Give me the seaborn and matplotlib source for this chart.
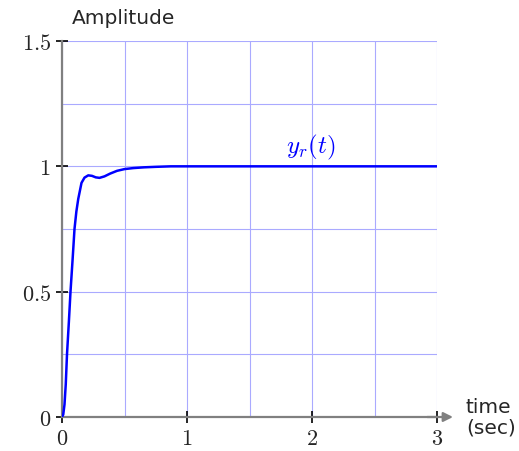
import matplotlib
matplotlib.use("Agg")
import matplotlib.pyplot as plt
import seaborn as sns
import pandas as pd
import numpy as np

# data
t_vals = [0.0, 0.01, 0.02, 0.03, 0.04, 0.055, 0.068, 0.085, 0.10, 0.115, 0.13, 0.156, 0.18, 0.21, 0.24,
          0.27, 0.30, 0.34, 0.385, 0.44, 0.5, 0.57, 0.655, 0.75, 0.87, 1.0, 1.5, 2.0, 2.5, 3.0]
y_vals = [0.0, 0.01, 0.05, 0.13, 0.25, 0.38, 0.5, 0.63, 0.75, 0.82, 0.87, 0.934, 0.955, 0.964, 0.962,
          0.956, 0.954, 0.96, 0.971, 0.982, 0.989, 0.993, 0.996, 0.998, 1.0, 1.0, 1.0, 1.0, 1.0, 1.0]
x_ticks = [0, 1, 2, 3]
x_ticklabels = ["0", "1", "2", "3"]
y_ticks = [0, 0.5, 1, 1.5]
y_ticklabels = ["0", "0.5", "1", "1.5"]
series_label = r"$y_r(t)$"

sns.set_style("white")
plt.rcParams["mathtext.fontset"] = "cm"
plt.rcParams["font.family"] = ["DejaVu Sans"]

df = pd.DataFrame({"t": t_vals, "y": y_vals})

fig = plt.figure(figsize=(5.19, 4.52), dpi=100)
ax = fig.add_axes([62 / 519, 34 / 452, 375 / 519, 376 / 452])

sns.lineplot(data=df, x="t", y="y", ax=ax, color="#0000ff", linewidth=1.8, zorder=5)

ax.set_xlim(0, 3)
ax.set_ylim(0, 1.5)
ax.set_xticks(x_ticks)
ax.set_xticklabels(["$" + s + "$" for s in x_ticklabels], fontsize=16)
ax.set_yticks(y_ticks)
ax.set_yticklabels(["$" + s + "$" for s in y_ticklabels], fontsize=16)
ax.set_xticks(np.arange(0, 3.01, 0.5), minor=True)
ax.set_yticks(np.arange(0, 1.51, 0.25), minor=True)
ax.grid(which="both", color="#aaaaff", linewidth=0.8)
ax.tick_params(which="minor", length=0, bottom=False, left=False)
ax.tick_params(which="major", direction="inout", length=8, width=1.2, color="black",
               bottom=True, left=True)
ax.tick_params(axis="x", pad=4)
ax.tick_params(axis="y", pad=4)
ax.set_xlabel("")
ax.set_ylabel("")

for s in ["top", "right"]:
    ax.spines[s].set_visible(False)
for s in ["left", "bottom"]:
    ax.spines[s].set_color("#808080")
    ax.spines[s].set_linewidth(1.6)
    ax.spines[s].set_zorder(4)

ax.annotate("", xy=(3.15, 0), xytext=(2.9, 0), xycoords="data",
            arrowprops=dict(arrowstyle="-|>", color="#808080", lw=1.6, mutation_scale=14),
            annotation_clip=False)

ax.text(1.99, 1.08, series_label, color="#0000ff", fontsize=18, ha="center", va="center")
fig.text(72 / 519, 1 - 19 / 452, "Amplitude", fontsize=14.5, ha="left", va="center")
fig.text(466 / 519, 1 - 418 / 452, "time\n(sec)", fontsize=14.5, ha="left", va="center", linespacing=1.1)

fig.savefig("out.png", dpi=100)
